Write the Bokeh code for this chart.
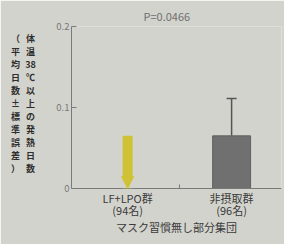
from bokeh.plotting import figure
from bokeh.models import Range1d, FixedTicker, LinearAxis, Arrow, NormalHead, ColumnDataSource
from bokeh.core.properties import value
from bokeh.embed import file_html
from bokeh.resources import INLINE

# ---- data ----
groups = ["LF+LPO群", "非摂取群"]
counts = ["(94名)", "(96名)"]
xpos = [1, 2]
means = [0.0, 0.065]
errs = [0.0, 0.046]
ytick_values = [0, 0.1, 0.2]
p_text = "P=0.0466"
x_title = "マスク習慣無し部分集団"
y_title_1 = ["体", "温", "38", "℃", "以", "上", "の", "発", "熱", "日", "数"]
y_title_2 = ["（", "平", "均", "日", "数", "±", "標", "準", "誤", "差", "）"]

FONT = "Noto Sans CJK JP"
BG = "#d3d3cd"
AX = "#7a7a7a"
TXT = "#3a3a3a"

# layout constants (pixels)
W, H = 284, 244
FL, FT, FB = 71, 26, 188          # frame left, top, bottom
Y0, Y1 = 0.0, 0.2
XS, XE = 0.46, 2.48


def row_pos(py):
    # vertical pixel position -> data units (layout helper for stacked title chars)
    return round(Y0 + (FB - py) / (FB - FT) * (Y1 - Y0), 4)


p = figure(width=W, height=H, output_backend="svg", toolbar_location=None,
           x_range=Range1d(XS, XE), y_range=Range1d(Y0, Y1),
           min_border_left=FL, min_border_right=W - 281, min_border_top=FT, min_border_bottom=H - FB)
p.background_fill_color = BG
p.border_fill_color = BG
p.outline_line_color = None
p.grid.visible = False

# title = p value
p.title.text = p_text
p.title.align = "left"
p.title.offset = 72
p.title.text_font = FONT
p.title.text_font_size = "11px"
p.title.text_font_style = "normal"
p.title.text_color = "#707070"
p.title.standoff = 6

# y axis
yax = p.yaxis[0]
yax.ticker = FixedTicker(ticks=ytick_values)
yax.major_label_overrides = {0: "0"}
yax.major_tick_in = 5
yax.major_tick_out = 0
yax.minor_tick_line_color = None
yax.axis_line_color = AX
yax.major_tick_line_color = AX
yax.major_label_text_color = "#777777"
yax.major_label_text_font = FONT
yax.major_label_text_font_size = "9.5px"
yax.major_label_standoff = 2

# vertical y titles: stacked characters, drawn unclipped (overlay level) left of the frame
for col, px in ((y_title_1, 30), (y_title_2, 15)):
    rows = [row_pos(38 + 13 * k) for k in range(len(col))]
    src = ColumnDataSource(dict(x=[XS] * len(col), y=rows, t=col))
    p.text(x="x", y="y", text="t", source=src, x_offset=px - FL,
           text_align="center", text_baseline="middle",
           text_font=value(FONT), text_font_size="9px", text_font_style="bold",
           text_color="#2e2e2e", level="overlay")

# x axis: group names as labels, separators as minor ticks
mid_ticks = [(xpos[i] + xpos[i + 1]) / 2 for i in range(len(xpos) - 1)] + [xpos[-1] + 0.5]
xax = p.xaxis[0]
xax.ticker = FixedTicker(ticks=xpos, minor_ticks=mid_ticks)
xax.major_label_overrides = {x: g for x, g in zip(xpos, groups)}
xax.major_tick_line_color = None
xax.major_tick_in = 0
xax.major_tick_out = 0
xax.minor_tick_in = 4
xax.minor_tick_out = 0
xax.minor_tick_line_color = AX
xax.axis_line_color = AX
xax.major_label_standoff = 1
xax.major_label_text_font = FONT
xax.major_label_text_font_size = "11px"
xax.major_label_text_color = TXT

# second row: counts + axis title
cax = LinearAxis(ticker=FixedTicker(ticks=xpos),
                 major_label_overrides={x: c for x, c in zip(xpos, counts)},
                 axis_line_color=None, major_tick_line_color=None, minor_tick_line_color=None,
                 major_tick_in=0, major_tick_out=0, major_label_standoff=-7,
                 major_label_text_font=FONT, major_label_text_font_size="11px",
                 major_label_text_color=TXT,
                 axis_label=x_title, axis_label_standoff=-2,
                 axis_label_text_font=FONT, axis_label_text_font_size="11px",
                 axis_label_text_font_style="normal", axis_label_text_color=TXT)
p.add_layout(cax, "below")

# bars (only non-zero)
bar_src = ColumnDataSource(dict(
    x=[x for x, m in zip(xpos, means) if m > 0],
    top=[m for m in means if m > 0],
    hi=[m + e for m, e in zip(means, errs) if m > 0],
))
p.segment(x0="x", y0="top", x1="x", y1="hi", source=bar_src, line_color="#555555", line_width=1.5)
p.scatter(x="x", y="hi", source=bar_src, marker="dash", size=10, line_color="#555555", line_width=1.5)
p.vbar(x="x", top="top", bottom=0, width=0.365, source=bar_src,
       fill_color="#707070", line_color="#606060")

# yellow arrow: from control level down to LF+LPO level
arr_src = ColumnDataSource(dict(x=[xpos[0]], y0=[means[1]], y1=[means[0]]))
YEL = "#cfc234"
p.add_layout(Arrow(end=NormalHead(size=12, fill_color=YEL, line_color=YEL, line_width=1),
                   x_start="x", y_start="y0", x_end="x", y_end="y1", source=arr_src,
                   line_color=YEL, line_width=10))

open("out.html", "w").write(file_html(p, INLINE))
